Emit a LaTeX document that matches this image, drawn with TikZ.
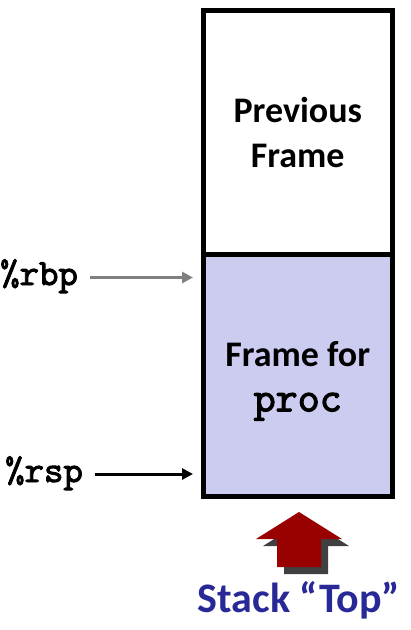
\documentclass[tikz,border=0pt]{standalone}
\usepackage{fontspec}
\setmainfont{Carlito}
\setmonofont{lmmono10-regular.otf}[FakeBold=2.5]
\usetikzlibrary{arrows.meta, positioning}
\definecolor{framefill}{RGB}{204,204,240}
\definecolor{topblue}{RGB}{40,40,150}
\definecolor{uparrow}{RGB}{153,0,0}
\definecolor{upshadow}{RGB}{64,64,64}
\tikzset{
    framebox/.style={rectangle, draw=black, line width=5pt, minimum width=188.5pt, align=center, inner sep=0pt, font=\fontsize{36}{45}\selectfont\bfseries},
    regname/.style={inner sep=0pt, anchor=base west, font=\fontsize{37}{40}\selectfont\ttfamily},
    regptr/.style={line width=3pt, -{Triangle[length=11pt, width=11pt]}, shorten <=12pt, shorten >=8pt},
}
\begin{document}
\begin{tikzpicture}[x=1pt, y=-1pt]
    \useasboundingbox (0,0) rectangle (411,630);
    % the two frames
    \node[framebox, fill=white, minimum height=244pt] (prev) at (297.75,132) {Previous\\Frame};
    \node[framebox, fill=framefill, minimum height=242pt, below=-5pt of prev] (proc) {\rule{0pt}{37pt}Frame for\\{\fontsize{42}{45}\selectfont\ttfamily proc}};
    % registers
    \node[regname] (rbp) at (0,285) {\%rbp};
    \node[regname] (rsp) at (5,482) {\%rsp};
    \draw[regptr, draw=gray, fill=gray] ([yshift=7.5pt]rbp.base east) -- ([yshift=7.5pt]rbp.base east -| proc.west);
    \draw[regptr] ([yshift=8pt]rsp.base east) -- ([yshift=8pt]rsp.base east -| proc.west);
    % stack top marker
    \foreach \dx/\dy/\c in {7/7/upshadow, 0/0/uparrow}
        \fill[\c, shift={(\dx,\dy)}] (299,512) -- (342,539) -- (321,539) -- (321,567)
            -- (277,567) -- (277,539) -- (256,539) -- cycle;
    \node[font=\fontsize{42}{48}\selectfont\bfseries, text=topblue] (top) at (299,600) {Stack “Top”};
\end{tikzpicture}
\end{document}
